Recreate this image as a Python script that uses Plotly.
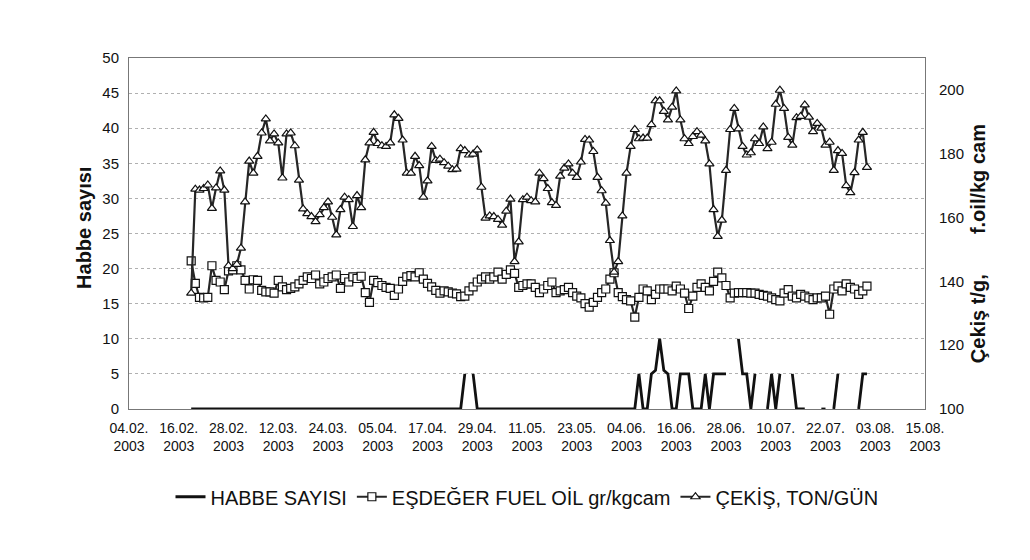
import pandas as pd
import plotly.graph_objects as go

# ---------------- data (daily, 19.02.2003 - 01.08.2003) ----------------
start_date = "2003-02-19"
end_date = "2003-08-01"
dates = pd.date_range(start_date, end_date, freq="D")

# HABBE SAYISI (left axis); None = no value (gap in line)
habbe = [
    0, 0, 0, 0, 0, 0, 0, 0, 0, 0,
    0, 0, 0, 0, 0, 0, 0, 0, 0, 0,
    0, 0, 0, 0, 0, 0, 0, 0, 0, 0,
    0, 0, 0, 0, 0, 0, 0, 0, 0, 0,
    0, 0, 0, 0, 0, 0, 0, 0, 0, 0,
    0, 0, 0, 0, 0, 0, 0, 0, 0, 0,
    0, 0, 0, 0, 0, 0,
    5, None, 5, 0,
    0, 0, 0, 0, 0, 0, 0, 0, 0, 0,
    0, 0, 0, 0, 0, 0, 0, 0, 0, 0,
    0, 0, 0, 0, 0, 0, 0, 0, 0, 0,
    0, 0, 0, 0, 0, 0, 0, 0,
    5, 0, 0, 5, 5.5, 10, 5.5, 5, 0, 0,
    5, 5, 5, 0, 0, 0, 5, 0, 5, 5,
    5, 5, None, None, 10, 5, 5, 0, 5, None,
    None, 0, 5, 0, 5, None, None, 5, 0, 0,
    0, None, None, None, 0, 0, None, 0, 5, None,
    None, None, None, 0, 5, 5,
]

# EŞDEĞER FUEL OİL gr/kgcam (right axis)
fuel_oil = [
    146.4, 139.4, 135.0, 134.8, 135.0, 144.9, 140.3, 139.8, 137.4, 143.3,
    143.6, 144.9, 143.6, 140.3, 137.6, 140.5, 140.3, 137.2, 136.7, 136.7,
    136.3, 140.3, 138.3, 137.4, 137.8, 138.3, 139.2, 140.3, 141.4, 140.9,
    142.0, 139.2, 139.8, 140.9, 141.4, 142.0, 137.8, 140.9, 139.8, 141.4,
    140.9, 141.6, 136.5, 133.4, 140.3, 139.6, 138.7, 138.1, 137.8, 135.6,
    137.6, 140.0, 141.4, 141.8, 141.4, 142.7, 140.7, 139.4, 138.3, 137.2,
    136.3, 137.0, 136.7, 136.3, 136.1, 135.2, 135.4, 137.0, 138.3, 139.8,
    140.7, 141.4, 140.7, 141.4, 142.9, 140.7, 142.2, 143.6, 142.5, 138.1,
    138.7, 139.2, 139.2, 138.1, 136.5, 137.6, 138.7, 139.8, 136.5, 137.0,
    137.4, 138.1, 136.5, 135.4, 134.8, 133.0, 131.9, 133.4, 135.0, 136.5,
    137.6, 140.7, 142.7, 136.5, 135.2, 134.3, 133.9, 128.8, 135.0, 137.6,
    137.0, 134.3, 135.9, 137.6, 137.6, 137.6, 137.0, 138.5, 137.6, 136.3,
    131.5, 135.4, 138.1, 139.2, 138.1, 137.0, 140.0, 142.9, 141.1, 138.7,
    134.8, 136.3, 136.5, 136.5, 136.5, 136.3, 136.3, 135.9, 135.6, 135.4,
    134.8, 134.3, 133.9, 136.3, 137.4, 135.4, 134.8, 135.9, 135.4, 134.8,
    134.3, 134.8, 134.8, 135.4, 129.7, 137.6, 138.5, 137.0, 139.2, 138.1,
    137.6, 135.9, 137.0, 138.5,
]

# ÇEKİŞ, TON/GÜN (right axis)
cekis = [
    136.3, 168.9, 168.6, 169.1, 170.2, 162.9, 169.3, 174.6, 168.6, 144.9,
    144.0, 145.3, 150.4, 164.9, 177.7, 173.9, 179.2, 186.5, 190.9, 184.0,
    186.2, 183.4, 172.4, 186.2, 186.5, 182.5, 171.7, 162.7, 161.2, 160.3,
    158.7, 160.9, 163.1, 164.9, 160.1, 154.6, 162.5, 166.4, 165.6, 157.2,
    166.9, 163.1, 178.1, 183.4, 186.7, 183.2, 182.5, 182.3, 183.4, 192.2,
    191.1, 184.3, 173.9, 173.9, 179.2, 176.3, 166.4, 171.5, 182.3, 177.9,
    178.3, 177.2, 176.1, 175.0, 175.2, 181.6, 181.0, 179.6, 179.9, 181.2,
    169.5, 159.8, 160.5, 160.3, 159.4, 157.6, 162.0, 165.8, 146.2, 152.4,
    165.6, 166.4, 165.3, 164.9, 173.9, 172.2, 169.1, 164.7, 163.8, 173.0,
    175.5, 176.8, 173.9, 172.6, 177.4, 184.5, 184.3, 180.7, 172.6, 168.4,
    164.5, 152.8, 142.9, 146.2, 160.5, 173.9, 182.3, 187.6, 184.7, 184.9,
    184.9, 189.1, 196.6, 196.6, 193.3, 190.6, 194.6, 199.7, 190.6, 184.7,
    183.2, 185.4, 186.9, 185.8, 184.0, 176.8, 162.5, 154.1, 159.2, 174.8,
    187.6, 194.2, 187.8, 182.3, 179.6, 180.3, 184.7, 183.2, 188.4, 181.6,
    183.6, 195.5, 199.9, 194.2, 185.1, 182.7, 191.3, 191.7, 195.3, 191.5,
    186.9, 189.5, 188.0, 182.7, 183.6, 174.8, 181.0, 180.1, 170.0, 167.8,
    174.1, 184.3, 186.7, 175.7,
]

series_names = ["HABBE SAYISI", "EŞDEĞER FUEL OİL gr/kgcam", "ÇEKİŞ, TON/GÜN"]
x_range = ["2003-02-04", "2003-08-15"]
left_range = [0, 50]
right_range = [100, 210]
right_ticks = [100, 120, 140, 160, 180, 200]

# ---------------- figure ----------------
FONT = "Liberation Sans, Arial, sans-serif"
LINE = "#262626"

fig = go.Figure()
fig.add_trace(go.Scatter(
    x=dates, y=habbe, name=series_names[0], mode="lines",
    line=dict(color="#111111", width=2.8), connectgaps=False,
))
fig.add_trace(go.Scatter(
    x=dates, y=fuel_oil, name=series_names[1], mode="lines+markers", yaxis="y2",
    line=dict(color=LINE, width=2.2),
    marker=dict(symbol="square", size=8, color="white",
                line=dict(color="#111111", width=1.2)),
))
fig.add_trace(go.Scatter(
    x=dates, y=cekis, name=series_names[2], mode="lines+markers", yaxis="y2",
    line=dict(color=LINE, width=2.2),
    marker=dict(symbol="triangle-up", size=8, color="white",
                line=dict(color="#111111", width=1.2)),
))

fig.update_layout(
    width=1030, height=560,
    margin=dict(l=121, r=113, t=50, b=159),
    paper_bgcolor="white", plot_bgcolor="white",
    font=dict(family=FONT, color="#111111", size=14),
    showlegend=True,
    legend=dict(orientation="h", x=0.5, xanchor="center", y=-0.25, yanchor="middle",
                font=dict(size=20, family=FONT), bgcolor="rgba(0,0,0,0)"),
    xaxis=dict(
        type="date", range=x_range, tick0=x_range[0], dtick=12 * 86400000,
        tickformat="%d.%m.<br>%Y", showgrid=False, zeroline=False,
        showline=True, linecolor="#777777", linewidth=1, mirror=True,
        ticks="", tickfont=dict(size=14), ticklabelstandoff=6,
    ),
    yaxis=dict(
        range=left_range, dtick=5, showgrid=True, gridcolor="#b0b0b0",
        griddash="dot", gridwidth=1, zeroline=False,
        showline=True, linecolor="#777777", linewidth=1,
        ticks="", tickfont=dict(size=15), ticklabelstandoff=6,
    ),
    yaxis2=dict(
        range=right_range, tickvals=right_ticks, overlaying="y", side="right",
        showgrid=False, zeroline=False, showline=True, linecolor="#777777",
        linewidth=1, ticks="", tickfont=dict(size=15), ticklabelstandoff=10,
    ),
    annotations=[
        dict(text="<b>Habbe sayısı</b>", xref="paper", yref="paper",
             x=-0.0565, y=0.516, textangle=-90, showarrow=False,
             xanchor="center", yanchor="middle", font=dict(size=20)),
        dict(text="<b>f.oil/kg cam</b>", xref="paper", yref="paper",
             x=1.0666, y=0.655, textangle=-90, showarrow=False,
             xanchor="center", yanchor="middle", font=dict(size=20)),
        dict(text="<b>Çekiş t/g,</b>", xref="paper", yref="paper",
             x=1.0666, y=0.256, textangle=-90, showarrow=False,
             xanchor="center", yanchor="middle", font=dict(size=20)),
    ],
)

fig.write_html("out.html")
